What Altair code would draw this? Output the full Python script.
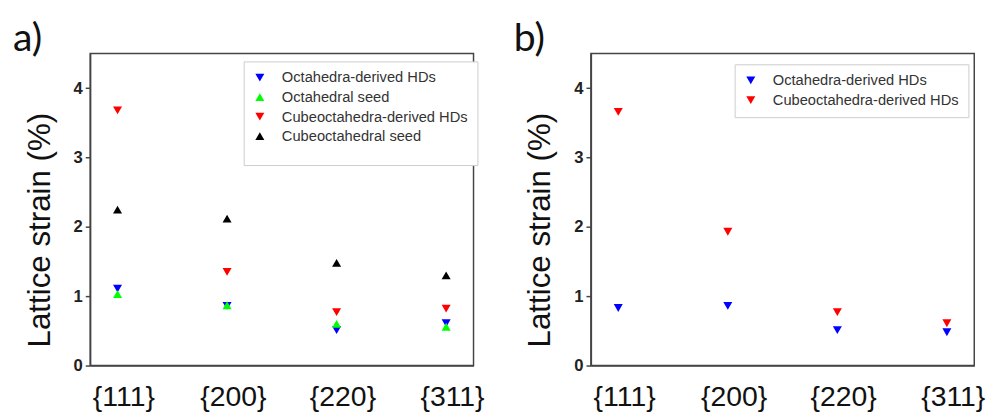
import altair as alt
import pandas as pd

planes = ["{111}", "{200}", "{220}", "{311}"]

series_a = ["Octahedra-derived HDs", "Octahedral seed",
            "Cubeoctahedra-derived HDs", "Cubeoctahedral seed"]
a_oct_hd = [1.11, 0.86, 0.51, 0.61]
a_oct_seed = [1.03, 0.87, 0.60, 0.56]
a_cubo_hd = [3.68, 1.35, 0.77, 0.82]
a_cubo_seed = [2.25, 2.12, 1.48, 1.30]

series_b = ["Octahedra-derived HDs", "Cubeoctahedra-derived HDs"]
b_oct_hd = [0.83, 0.86, 0.51, 0.48]
b_cubo_hd = [3.66, 1.93, 0.77, 0.61]

colors_a = ["#0000ff", "#00ff00", "#ff0000", "#000000"]
shapes_a = ["triangle-down", "triangle-up", "triangle-down", "triangle-up"]
colors_b = ["#0000ff", "#ff0000"]
shapes_b = ["triangle-down", "triangle-down"]


def long_table(names, columns):
    rows = []
    for name, vals in zip(names, columns):
        for p, v in zip(planes, vals):
            rows.append({"plane": p, "strain": v, "series": name})
    return pd.DataFrame(rows)


df_a = long_table(series_a, [a_oct_hd, a_oct_seed, a_cubo_hd, a_cubo_seed])
df_b = long_table(series_b, [b_oct_hd, b_cubo_hd])


def panel(df, names, colors, shapes, label, lx, ly, extra_bottom):
    legend_kwargs = dict(
        orient="none", legendX=lx, legendY=ly,
        padding=9, strokeColor="#cccccc", fillColor="#ffffff",
        labelFont="Arial", labelFontSize=15, labelColor="#333333",
        labelLimit=400,
        symbolSize=85, rowPadding=4, labelOffset=15,
        symbolStrokeWidth=0,
    )
    if extra_bottom:
        legend_kwargs.update(title=" ", titleOrient="bottom", titleFontSize=9,
                             titlePadding=3)
    else:
        legend_kwargs.update(title=None)
    leg = alt.Legend(**legend_kwargs)
    return alt.Chart(df).mark_point(filled=True, size=85, opacity=1).encode(
        x=alt.X("plane:N", sort=planes,
                scale=alt.Scale(type="point", padding=0.25),
                axis=alt.Axis(title=None, labelAngle=0, labelFontSize=29,
                              labelFont="Arial", labelColor="#111111",
                              labelPadding=18, ticks=False, labelOffset=6,
                              domainColor="#444444", domainWidth=1.5)),
        y=alt.Y("strain:Q", scale=alt.Scale(domain=[0, 4.5], nice=False),
                axis=alt.Axis(values=[0, 1, 2, 3, 4], format="d", grid=False,
                              title="Lattice strain (%)", titleFontSize=32,
                              titleFont="Arial", titleFontWeight="normal",
                              titleColor="#111111", titleAngle=270,
                              titleX=-42, titleY=180, titleAlign="center",
                              titleBaseline="alphabetic",
                              labelFontSize=17, labelFont="Arial",
                              labelFontWeight="bold", labelColor="#222222",
                              labelPadding=3, tickSize=5, tickColor="#444444",
                              tickWidth=1.5, domainColor="#444444",
                              domainWidth=1.5)),
        color=alt.Color("series:N", scale=alt.Scale(domain=names, range=colors),
                        legend=leg),
        shape=alt.Shape("series:N", scale=alt.Scale(domain=names, range=shapes),
                        legend=leg),
    ).properties(
        width=392, height=319,
        title=alt.TitleParams(label, anchor="start", frame="group",
                              fontSize=40, font="Lato", fontWeight="normal",
                              color="#111111", dx=-79, offset=-5),
    )


pa = panel(df_a, series_a, colors_a, shapes_a, "a)", 157, 8, True)
pb = panel(df_b, series_b, colors_b, shapes_b, "b)", 147, 11, False)

chart = alt.hconcat(pa, pb, spacing=28).resolve_scale(
    color="independent", shape="independent"
).configure_view(stroke="#444444", strokeWidth=1.5).properties(
    padding={"left": 4, "top": 6, "right": 0, "bottom": 0}
)

chart.save("out.html", embed_options={"renderer": "svg", "actions": False})
